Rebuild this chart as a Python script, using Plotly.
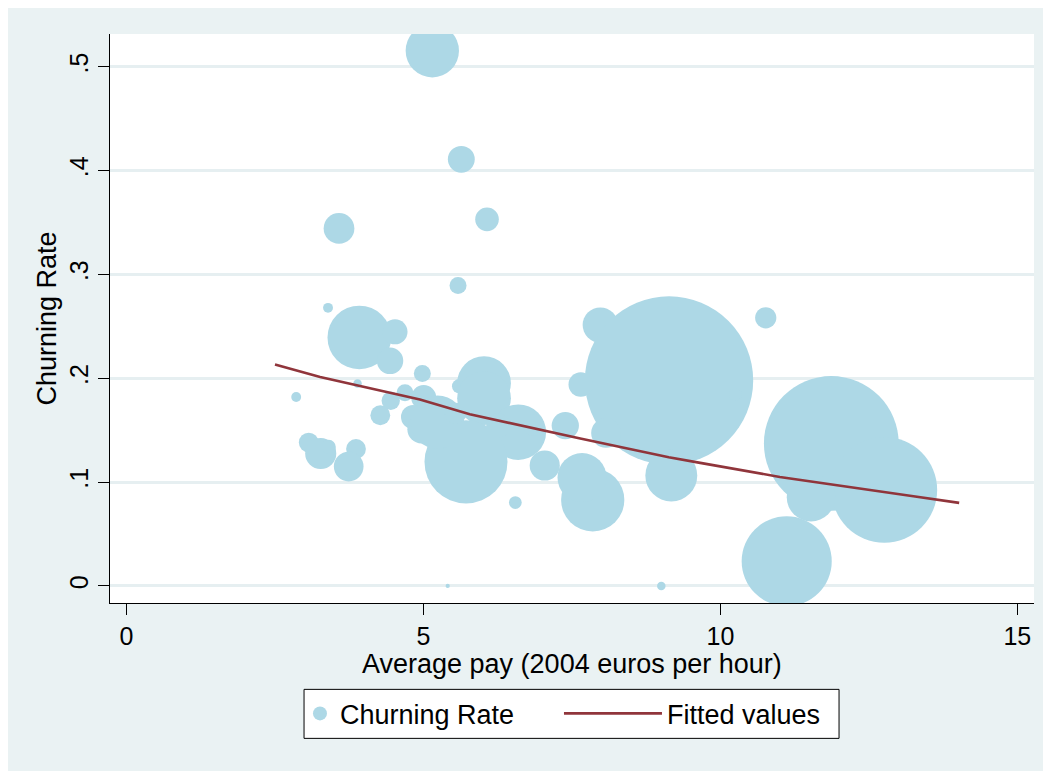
import plotly.graph_objects as go

# ---- data ----
pay = [5.149, 5.637, 6.070, 3.578, 5.582, 3.393, 3.920, 4.521, 4.437, 4.981,
       3.890, 2.857, 5.599, 6.020, 6.020, 7.978, 10.763, 9.135, 10.251, 7.648,
       8.074, 9.173, 11.867, 12.760, 11.525, 11.116, 9.005, 7.850, 7.670, 7.388,
       7.042, 6.597, 6.850, 6.260, 6.547, 5.716, 4.689, 4.449, 5.004, 4.273,
       4.824, 4.967, 5.236, 5.540, 3.068, 3.270, 3.405, 3.864, 3.741, 5.408]
churn = [0.5154, 0.4108, 0.3530, 0.3443, 0.2894, 0.2678, 0.2393, 0.2447, 0.2168, 0.2046,
         0.1950, 0.1820, 0.1924, 0.1953, 0.1808, 0.2512, 0.2582, 0.1979, 0.1844, 0.1940,
         0.1474, 0.1064, 0.1372, 0.0925, 0.0855, 0.0238, 0.0000, 0.0829, 0.1044, 0.1545,
         0.1160, 0.1481, 0.1548, 0.1548, 0.0803, 0.1195, 0.1861, 0.1784, 0.1815, 0.1644,
         0.1628, 0.1508, 0.1577, 0.1661, 0.1381, 0.1276, 0.1339, 0.1320, 0.1150, 0.0000]
weight = [14.21, 3.61, 2.79, 4.71, 1.44, 0.49, 20.25, 3.13, 3.50, 1.44,
          0.36, 0.49, 1.00, 14.44, 14.44, 6.25, 2.25, 141.61, 0.81, 2.99,
          4.41, 13.47, 90.82, 55.80, 11.76, 40.58, 0.36, 19.98, 12.04, 3.72,
          4.54, 15.44, 2.25, 2.89, 0.81, 34.46, 1.44, 1.69, 3.13, 1.96,
          2.89, 4.00, 14.21, 2.25, 1.96, 4.84, 1.00, 1.96, 4.41, 0.09]

fit_pay = [2.50, 3.26, 4.94, 5.78, 7.64, 9.13, 9.66, 11.00, 13.25, 14.02]
fit_val = [0.2133, 0.2013, 0.1796, 0.1654, 0.1420, 0.1240, 0.1185, 0.1050, 0.0864, 0.0800]

x_ticks = [0, 5, 10, 15]
y_ticks = [0, 0.1, 0.2, 0.3, 0.4, 0.5]
y_ticktext = ["0", ".1", ".2", ".3", ".4", ".5"]
x_title = "Average pay (2004 euros per hour)"
y_title = "Churning Rate"

# ---- styles ----
FONT = "Liberation Sans, Arial, Helvetica, sans-serif"
BUBBLE = "#ADD8E6"
FITCOL = "#90353B"
BG = "#EAF2F3"
TITLE_SIZE = 27

fig = go.Figure()

fig.add_trace(go.Scatter(
    x=pay, y=churn, mode="markers", showlegend=False, name="Churning Rate",
    marker=dict(size=weight, sizemode="area", sizeref=0.01, color=BUBBLE,
                line=dict(width=0), opacity=1),
    hoverinfo="x+y"))

# legend-only entry for the bubbles
fig.add_trace(go.Scatter(
    x=[None], y=[None], mode="markers", name="Churning Rate", legend="legend",
    marker=dict(size=14, color=BUBBLE)))

fig.add_trace(go.Scatter(
    x=fit_pay, y=fit_val, mode="lines", name="Fitted values", legend="legend2",
    line=dict(color=FITCOL, width=2.6)))

legend_common = dict(orientation="h", y=-0.1518, yanchor="top", xanchor="left",
                     bgcolor="rgba(0,0,0,0)", borderwidth=0,
                     font=dict(size=TITLE_SIZE))

fig.update_layout(
    width=1043, height=763,
    margin=dict(l=102, r=17, t=26, b=168),
    paper_bgcolor=BG, plot_bgcolor="white",
    font=dict(family=FONT, size=26, color="black"),
    showlegend=True,
    legend=dict(x=0.2056, itemwidth=30, **legend_common),
    legend2=dict(x=0.4859, itemwidth=98, **legend_common),
    shapes=[
        dict(type="rect", xref="paper", yref="paper", x0=0.2100, x1=0.7890,
             y0=-0.2379, y1=-0.1518, fillcolor="white",
             line=dict(color="black", width=1), layer="above"),
    ],
    annotations=[
        dict(text=x_title, xref="paper", yref="paper", x=0.5, y=-0.1065,
             xanchor="center", yanchor="middle", showarrow=False,
             font=dict(size=TITLE_SIZE)),
    ],
)

fig.update_xaxes(
    range=[-0.278, 15.28], tickvals=x_ticks, ticktext=[str(v) for v in x_ticks],
    showgrid=False, zeroline=False, showline=True, linecolor="black", linewidth=1,
    ticks="outside", ticklen=11, tickcolor="black", tickwidth=1,
    tickfont=dict(size=25),
    automargin=False)

fig.update_yaxes(
    range=[-0.0164, 0.5315], tickvals=y_ticks, ticktext=y_ticktext, tickangle=-90,
    showgrid=True, gridcolor="#E6EFF1", gridwidth=2.5, zeroline=False,
    showline=True, linecolor="black", linewidth=1,
    ticks="outside", ticklen=11, tickcolor="black", tickwidth=1,
    tickfont=dict(size=25),
    title=dict(text=y_title, font=dict(size=TITLE_SIZE), standoff=0),
    automargin=False)

fig.write_html("out.html")
